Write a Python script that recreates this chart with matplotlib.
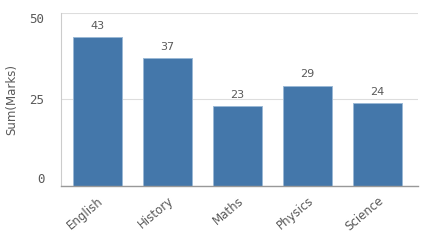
import matplotlib.pyplot as plt

subjects = ["English", "History", "Maths", "Physics", "Science"]
marks = [43, 37, 23, 29, 24]
yticks = [0, 25, 50]

fig = plt.figure(figsize=(4.42, 2.4), dpi=100)
ax = fig.add_axes([0.138, 0.225, 0.808, 0.721])

x = range(len(subjects))
bars = ax.bar(x, marks, width=0.69, color="#4477aa", edgecolor="#9ab8d6", linewidth=0.7, zorder=3)

for b, v in zip(bars, marks):
    ax.text(b.get_x() + b.get_width() / 2, v + 1.8, str(v), ha="center", va="bottom",
            fontsize=8, color="#595959")

ax.set_xlim(-0.52, 4.58)
ax.set_ylim(0, 50)
ax.set_yticks(yticks)
ax.set_yticklabels([str(t) for t in yticks], family="DejaVu Sans Mono", fontsize=9, color="#595959")
# first/last y labels sit inside the plot range, like the original
ylabs = ax.get_yticklabels()
ylabs[0].set_va("bottom")
ylabs[-1].set_va("top")
ax.set_xticks(list(x))
ax.set_xticklabels(subjects, rotation=40, ha="right", rotation_mode="anchor", fontsize=8.5, color="#595959")
ax.tick_params(axis="x", length=0, pad=6)
ax.tick_params(axis="y", length=0, pad=12)
ax.grid(axis="y", color="#dddddd", linewidth=0.8, zorder=0)
ax.set_ylabel("Sum(Marks)", fontsize=8.5, color="#595959", labelpad=8)

for s in ["top", "right"]:
    ax.spines[s].set_visible(False)
ax.spines["left"].set_color("#cccccc")
ax.spines["left"].set_linewidth(0.8)
ax.spines["bottom"].set_color("#999999")
ax.spines["bottom"].set_linewidth(1.0)
ax.spines["bottom"].set_zorder(4)

fig.savefig("out.png", dpi=100)
